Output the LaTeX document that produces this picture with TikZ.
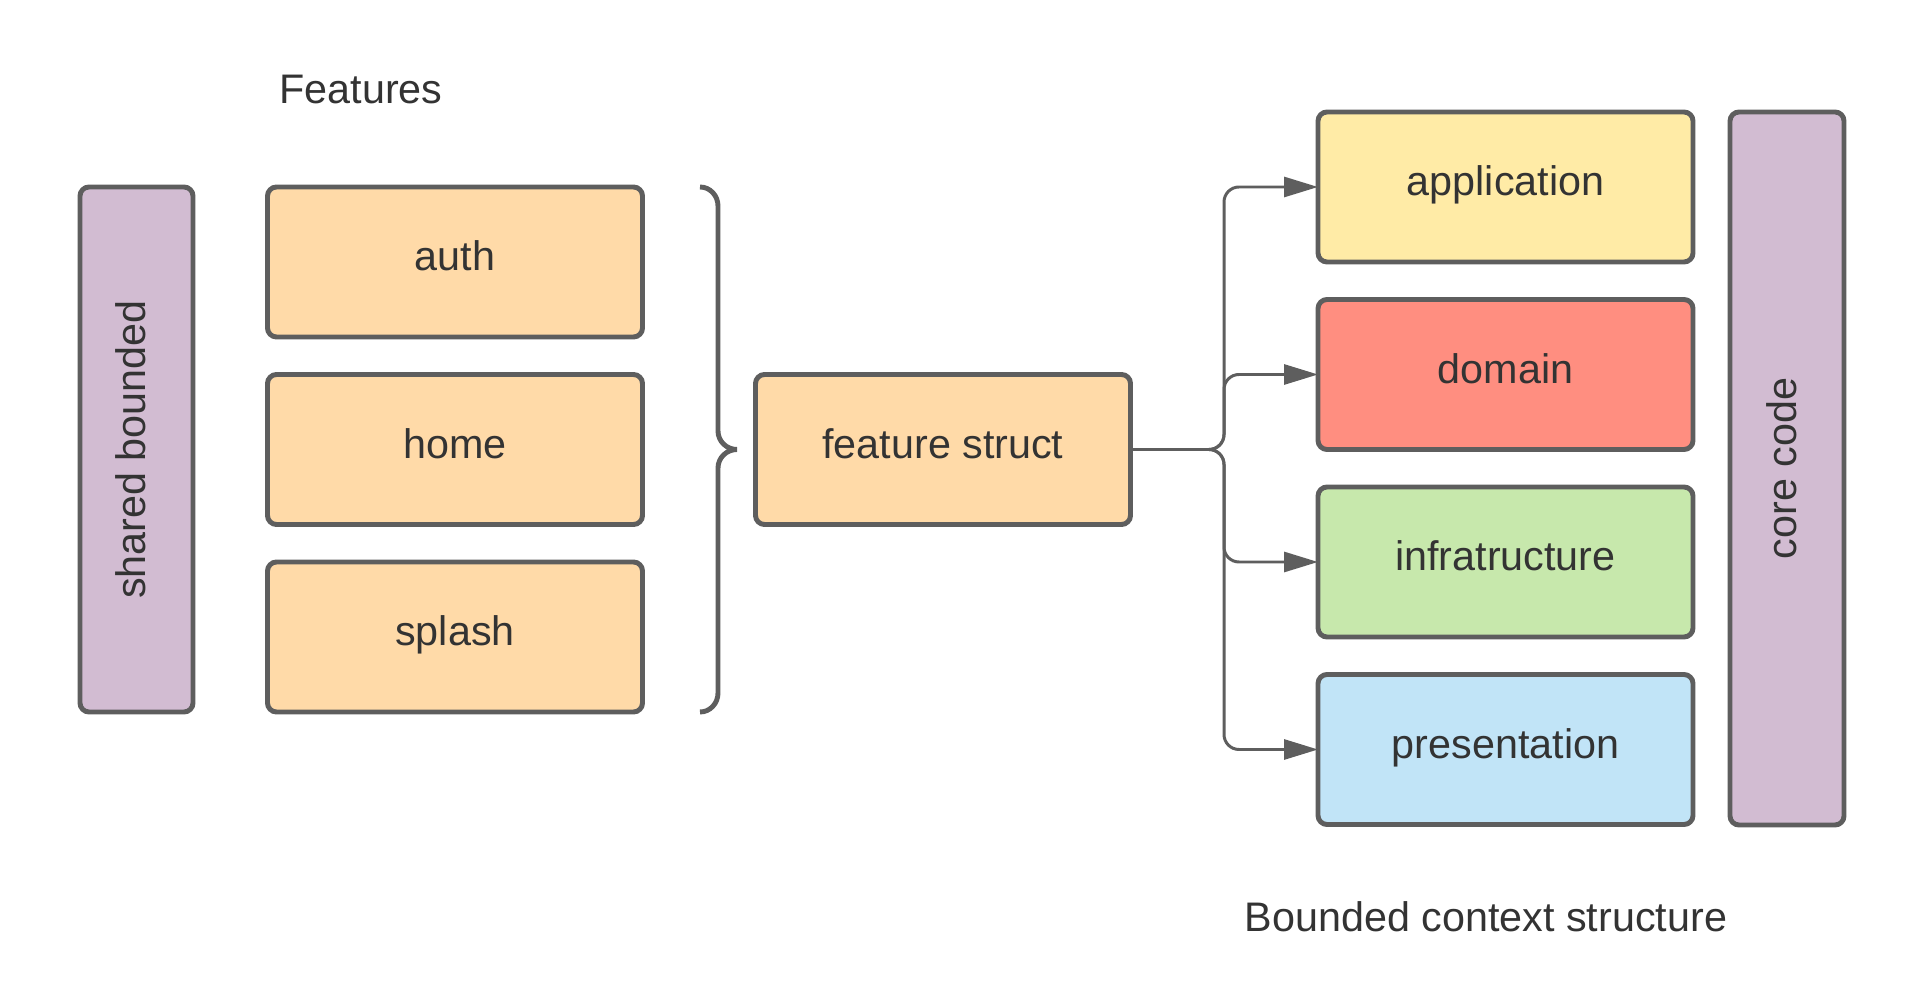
\documentclass[tikz,border=0pt]{standalone}
\usepackage{fontspec}
\setmainfont{Liberation Sans}
\usepackage{xcolor}
\usetikzlibrary{arrows.meta, positioning, calc}

\definecolor{edgegray}{HTML}{5E5E5E}
\definecolor{textgray}{HTML}{333333}
\definecolor{featorange}{HTML}{FFDAA8}
\definecolor{appyellow}{HTML}{FFEBA6}
\definecolor{domred}{HTML}{FF8E80}
\definecolor{infragreen}{HTML}{C7E8AC}
\definecolor{presblue}{HTML}{C1E4F7}
\definecolor{sharedpurple}{HTML}{D2BCD2}

\begin{document}
\begin{tikzpicture}[
  x=1mm, y=1mm,
  box/.style={rectangle, rounded corners=0.9mm, draw=edgegray, line width=1.4pt, minimum width=37.5mm, minimum height=15mm, align=center, inner sep=0pt, outer sep=0pt, text height=3mm, text depth=1.2mm, text=textgray, font=\fontsize{11.75}{14}\selectfont},
  feature/.style={box, fill=featorange},
  layer/.style={box},
  bar/.style={box, fill=sharedpurple, rotate=90},
  label/.style={text=textgray, font=\fontsize{11.75}{14}\selectfont, inner sep=0pt},
  arr/.style={-{Triangle[length=3.4mm, width=2mm]}, draw=edgegray, line width=0.85pt, rounded corners=1.5mm}
]
\useasboundingbox (0,0) rectangle (193.1,99);
% shared part on the left
\node[bar, minimum width=52.5mm, minimum height=11.3mm] (shared) at (13.65,54.05) {shared bounded};
% features column
\node[label] (features) at (36.1,90.0) {Features};
\node[feature] (auth) at (45.5,72.8) {auth};
\node[feature, below=3.75mm of auth] (home) {home};
\node[feature, below=3.75mm of home] (splash) {splash};
% brace grouping the features
\draw[edgegray, line width=1.4pt]
  (70,80.3) to[out=0,in=90] (71.8,78.4) -- (71.8,55.9)
  to[out=-90,in=180] (73.7,54.05) to[out=180,in=90] (71.8,52.2)
  -- (71.8,29.7) to[out=-90,in=0] (70,27.8);
\node[feature] (fstruct) at (94.3,54.05) {feature struct};
% bounded context layers
\node[layer, fill=appyellow] (app) at (150.55,80.3) {application};
\node[layer, fill=domred, below=3.75mm of app] (domain) {domain};
\node[layer, fill=infragreen, below=3.75mm of domain] (infra) {infratructure};
\node[layer, fill=presblue, below=3.75mm of infra] (pres) {presentation};
\node[bar, minimum width=71.3mm, minimum height=11.4mm] (core) at (178.7,52.15) {core code};
\node[label] (bounded) at (148.6,7.3) {Bounded context structure};
% connectors
\coordinate (split) at (122.4,54.05);
\foreach \t in {app, domain, infra, pres}
  \draw[arr] (fstruct.east) -- (split) |- (\t.west);
\end{tikzpicture}
\end{document}
